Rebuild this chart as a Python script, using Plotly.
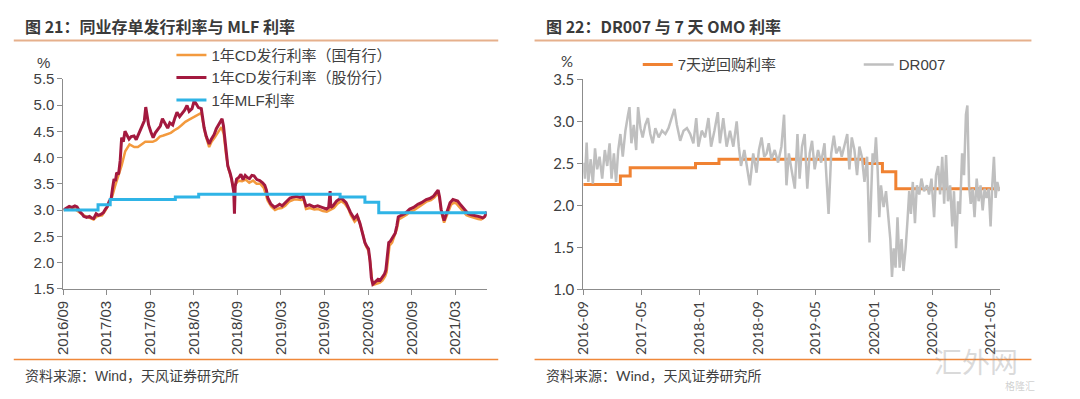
import plotly.graph_objects as go

# ---------------- data: left chart (同业存单发行利率与 MLF 利率) ----------------
cd_joint_dates = [
    "2016-09-01", "2016-09-13", "2016-09-25", "2016-10-07", "2016-10-19", "2016-10-28",
    "2016-11-10", "2016-11-19", "2016-11-25", "2016-12-07", "2016-12-19", "2016-12-28",
    "2017-01-06", "2017-01-16", "2017-01-25", "2017-02-06", "2017-02-15", "2017-02-24",
    "2017-03-03", "2017-03-12", "2017-03-20", "2017-03-26", "2017-04-01", "2017-04-07",
    "2017-04-12", "2017-04-20", "2017-04-27", "2017-05-03", "2017-05-10", "2017-05-17",
    "2017-05-25", "2017-06-03", "2017-06-12", "2017-06-24", "2017-07-03", "2017-07-12",
    "2017-07-21", "2017-07-27", "2017-08-06", "2017-08-12", "2017-08-18", "2017-08-24",
    "2017-09-03", "2017-09-12", "2017-09-21", "2017-10-03", "2017-10-12", "2017-10-21",
    "2017-10-31", "2017-11-12", "2017-11-21", "2017-12-03", "2017-12-12", "2017-12-21",
    "2018-01-01", "2018-01-13", "2018-01-22", "2018-02-01", "2018-02-10", "2018-02-22",
    "2018-03-03", "2018-03-12", "2018-03-21", "2018-04-02", "2018-04-08", "2018-04-14",
    "2018-04-23", "2018-05-05", "2018-05-14", "2018-05-26", "2018-06-04", "2018-06-13",
    "2018-06-22", "2018-06-28", "2018-07-04", "2018-07-10", "2018-07-16", "2018-07-22",
    "2018-08-01", "2018-08-07", "2018-08-16", "2018-08-19", "2018-08-22", "2018-08-28",
    "2018-09-06", "2018-09-15", "2018-09-24", "2018-10-03", "2018-10-12", "2018-10-21",
    "2018-10-31", "2018-11-09", "2018-11-21", "2018-12-03", "2018-12-15", "2018-12-24",
    "2018-12-31", "2019-01-06", "2019-01-18", "2019-02-03", "2019-02-15", "2019-02-24",
    "2019-03-07", "2019-03-19", "2019-03-31", "2019-04-09", "2019-04-24", "2019-05-06",
    "2019-05-21", "2019-06-03", "2019-06-15", "2019-06-30", "2019-07-18", "2019-08-03",
    "2019-08-21", "2019-08-31", "2019-09-09", "2019-09-18", "2019-09-24", "2019-09-27",
    "2019-10-06", "2019-10-21", "2019-10-31", "2019-11-09", "2019-11-21", "2019-11-30",
    "2019-12-09", "2019-12-18", "2020-01-03", "2020-01-15", "2020-01-27", "2020-02-05",
    "2020-02-17", "2020-02-26", "2020-03-03", "2020-03-09", "2020-03-15", "2020-03-21",
    "2020-03-31", "2020-04-12", "2020-04-21", "2020-04-30", "2020-05-09", "2020-05-15",
    "2020-05-21", "2020-05-27", "2020-06-02", "2020-06-08", "2020-06-17", "2020-06-23",
    "2020-06-30", "2020-07-06", "2020-07-18", "2020-08-02", "2020-08-14", "2020-08-23",
    "2020-09-08", "2020-09-26", "2020-10-11", "2020-10-31", "2020-11-15", "2020-11-30",
    "2020-12-10", "2020-12-20", "2020-12-26", "2021-01-02", "2021-01-14", "2021-01-22",
    "2021-01-30", "2021-02-08", "2021-02-20", "2021-03-02", "2021-03-12", "2021-03-24",
    "2021-04-03", "2021-04-14", "2021-04-25", "2021-05-08", "2021-05-20", "2021-06-01",
    "2021-06-14", "2021-06-25", "2021-07-04", "2021-07-12",
]
cd_joint_values = [
    3.00, 3.04, 3.07, 3.05, 3.08, 3.06,
    2.96, 2.92, 2.88, 2.86, 2.88, 2.85,
    2.84, 2.93, 2.90, 2.92, 2.95, 3.02,
    3.06, 3.17, 3.22, 3.42, 3.59, 3.55,
    3.71, 3.68, 3.95, 4.38, 4.30, 4.50,
    4.42, 4.35, 4.40, 4.41, 4.34, 4.44,
    4.52, 4.62, 4.70, 4.96, 4.78, 4.62,
    4.48, 4.38, 4.47, 4.56, 4.60, 4.74,
    4.65, 4.56, 4.66, 4.62, 4.75, 4.86,
    4.78, 4.84, 4.90, 4.99, 4.88, 4.93,
    5.08, 5.02, 4.95, 4.93, 4.75, 4.56,
    4.40, 4.26, 4.35, 4.44, 4.55, 4.62,
    4.70, 4.74, 4.60, 4.38, 4.10, 3.84,
    3.70, 3.59, 3.35, 2.93, 3.45, 3.59,
    3.62, 3.68, 3.58, 3.66, 3.62, 3.60,
    3.66, 3.65, 3.58, 3.56, 3.52, 3.47,
    3.38, 3.23, 3.12, 3.05, 3.08, 3.11,
    3.08, 3.14, 3.20, 3.23, 3.25, 3.26,
    3.24, 3.26, 3.08, 3.10, 3.06, 3.08,
    3.05, 3.03, 3.02, 3.05, 3.36, 3.05,
    3.08, 3.17, 3.20, 3.23, 3.18, 3.14,
    3.05, 2.96, 2.84, 2.90, 2.75, 2.59,
    2.38, 2.30, 2.26, 2.05, 1.71, 1.59,
    1.63, 1.68, 1.66, 1.71, 1.78, 1.86,
    2.10, 2.38, 2.40, 2.44, 2.50, 2.56,
    2.70, 2.87, 2.90, 2.93, 2.98, 3.02,
    3.05, 3.11, 3.14, 3.20, 3.22, 3.26,
    3.32, 3.38, 3.25, 3.00, 2.80, 2.92,
    3.05, 3.14, 3.20, 3.18, 3.17, 3.10,
    3.04, 2.98, 2.93, 2.91, 2.90, 2.88,
    2.87, 2.85, 2.88, 2.97,
]

cd_state_dates = [
    "2016-09-01", "2016-09-20", "2016-10-15", "2016-11-05", "2016-11-25", "2016-12-15",
    "2017-01-05", "2017-01-20", "2017-02-10", "2017-02-25", "2017-03-10", "2017-03-24",
    "2017-04-05", "2017-04-18", "2017-05-03", "2017-05-18", "2017-06-05", "2017-06-25",
    "2017-07-10", "2017-07-25", "2017-08-10", "2017-08-25", "2017-09-10", "2017-09-25",
    "2017-10-10", "2017-10-25", "2017-11-10", "2017-11-25", "2017-12-10", "2017-12-25",
    "2018-01-10", "2018-01-25", "2018-02-10", "2018-02-25", "2018-03-10", "2018-03-25",
    "2018-04-02", "2018-04-10", "2018-04-20", "2018-05-05", "2018-05-15", "2018-05-28",
    "2018-06-10", "2018-06-25", "2018-07-05", "2018-07-15", "2018-07-25", "2018-08-05",
    "2018-08-15", "2018-08-25", "2018-09-05", "2018-09-20", "2018-10-05", "2018-10-20",
    "2018-11-05", "2018-11-20", "2018-12-05", "2018-12-20", "2019-01-05", "2019-01-20",
    "2019-02-05", "2019-02-20", "2019-03-05", "2019-03-20", "2019-04-05", "2019-04-25",
    "2019-05-10", "2019-05-25", "2019-06-05", "2019-06-15", "2019-07-01", "2019-07-20",
    "2019-08-05", "2019-08-25", "2019-09-10", "2019-09-25", "2019-10-10", "2019-10-25",
    "2019-11-10", "2019-11-25", "2019-12-10", "2019-12-20", "2020-01-05", "2020-01-20",
    "2020-01-30", "2020-02-08", "2020-02-20", "2020-03-03", "2020-03-12", "2020-03-18",
    "2020-03-25", "2020-04-05", "2020-04-20", "2020-05-01", "2020-05-12", "2020-05-18",
    "2020-05-24", "2020-05-30", "2020-06-10", "2020-06-20", "2020-06-30", "2020-07-08",
    "2020-07-25", "2020-08-10", "2020-08-25", "2020-09-10", "2020-09-30", "2020-10-15",
    "2020-11-01", "2020-11-20", "2020-12-05", "2020-12-15", "2020-12-21", "2020-12-27",
    "2021-01-03", "2021-01-14", "2021-01-24", "2021-02-02", "2021-02-12", "2021-02-24",
    "2021-03-05", "2021-03-15", "2021-03-26", "2021-04-06", "2021-04-18", "2021-04-30",
    "2021-05-12", "2021-05-25", "2021-06-06", "2021-06-18", "2021-06-30", "2021-07-12",
]
cd_state_values = [
    3.00, 3.02, 3.03, 2.97, 2.90, 2.86,
    2.82, 2.88, 2.90, 3.00, 3.12, 3.25,
    3.45, 3.62, 3.85, 4.12, 4.25, 4.20,
    4.20, 4.25, 4.30, 4.30, 4.30, 4.33,
    4.40, 4.42, 4.44, 4.47, 4.52, 4.56,
    4.62, 4.68, 4.72, 4.76, 4.80, 4.84,
    4.85, 4.65, 4.42, 4.20, 4.30, 4.38,
    4.48, 4.58, 4.45, 4.05, 3.78, 3.62,
    3.40, 3.50, 3.56, 3.55, 3.58, 3.52,
    3.56, 3.50, 3.50, 3.42, 3.18, 3.07,
    3.00, 3.03, 3.04, 3.08, 3.16, 3.20,
    3.20, 3.19, 3.20, 3.02, 3.04, 3.01,
    3.02, 2.98, 2.97, 3.00, 3.04, 3.12,
    3.17, 3.12, 3.02, 2.90, 2.78, 2.85,
    2.70, 2.55, 2.33, 2.22, 1.95, 1.66,
    1.58, 1.60, 1.62, 1.66, 1.74, 1.82,
    2.05, 2.32, 2.38, 2.50, 2.64, 2.82,
    2.86, 2.91, 2.97, 3.00, 3.06, 3.10,
    3.16, 3.19, 3.24, 3.30, 3.33, 3.18,
    2.95, 2.76, 2.88, 3.02, 3.10, 3.14,
    3.13, 3.08, 3.02, 2.96, 2.90, 2.88,
    2.86, 2.84, 2.83, 2.82, 2.85, 2.93,
]

mlf_dates = ["2016-09-01", "2017-01-24", "2017-03-16", "2017-12-14", "2018-03-22",
             "2019-11-05", "2020-02-17", "2020-04-15", "2021-07-12"]
mlf_values = [3.00, 3.10, 3.20, 3.25, 3.30, 3.25, 3.15, 2.95, 2.95]

left_ticks = ["2016-09-01", "2017-03-01", "2017-09-01", "2018-03-01", "2018-09-01",
              "2019-03-01", "2019-09-01", "2020-03-01", "2020-09-01", "2021-03-01"]
left_tick_labels = ["2016/09", "2017/03", "2017/09", "2018/03", "2018/09",
                    "2019/03", "2019/09", "2020/03", "2020/09", "2021/03"]
left_range = ["2016-09-01", "2021-07-12"]

# ---------------- data: right chart (DR007 与 7 天 OMO 利率) ----------------
omo_dates = ["2016-09-01", "2017-02-03", "2017-03-16", "2017-12-14", "2018-03-22",
             "2019-11-18", "2020-02-03", "2020-03-30", "2021-06-08"]
omo_values = [2.25, 2.35, 2.45, 2.50, 2.55, 2.50, 2.40, 2.20, 2.20]

dr007_dates = [
    "2016-09-01", "2016-09-08", "2016-09-15", "2016-09-22", "2016-10-02", "2016-10-11",
    "2016-10-20", "2016-10-29", "2016-11-08", "2016-11-19", "2016-11-30", "2016-12-10",
    "2016-12-20", "2016-12-28", "2017-01-07", "2017-01-16", "2017-01-25", "2017-02-03",
    "2017-02-13", "2017-02-24", "2017-03-07", "2017-03-13", "2017-03-21", "2017-03-31",
    "2017-04-10", "2017-04-18", "2017-04-28", "2017-05-07", "2017-05-18", "2017-05-29",
    "2017-06-08", "2017-06-18", "2017-06-29", "2017-07-13", "2017-07-27", "2017-08-10",
    "2017-08-23", "2017-09-06", "2017-09-17", "2017-09-27", "2017-10-11", "2017-10-25",
    "2017-11-08", "2017-11-22", "2017-12-05", "2017-12-17", "2017-12-26", "2018-01-09",
    "2018-01-23", "2018-02-06", "2018-02-17", "2018-03-03", "2018-03-17", "2018-03-26",
    "2018-04-09", "2018-04-23", "2018-05-07", "2018-05-21", "2018-06-04", "2018-06-13",
    "2018-06-22", "2018-07-06", "2018-07-15", "2018-07-29", "2018-08-12", "2018-08-26",
    "2018-09-05", "2018-09-16", "2018-09-27", "2018-10-07", "2018-10-16", "2018-10-27",
    "2018-11-10", "2018-11-24", "2018-12-08", "2018-12-19", "2018-12-29", "2019-01-08",
    "2019-01-19", "2019-02-02", "2019-02-13", "2019-02-22", "2019-03-04", "2019-03-15",
    "2019-03-26", "2019-04-05", "2019-04-15", "2019-04-26", "2019-05-10", "2019-05-23",
    "2019-06-06", "2019-06-13", "2019-06-23", "2019-07-04", "2019-07-15", "2019-07-25",
    "2019-08-08", "2019-08-17", "2019-08-29", "2019-09-09", "2019-09-18", "2019-09-28",
    "2019-10-09", "2019-10-20", "2019-10-30", "2019-11-09", "2019-11-20", "2019-12-01",
    "2019-12-11", "2019-12-18", "2019-12-24", "2019-12-31", "2020-01-07", "2020-01-14",
    "2020-01-21", "2020-01-28", "2020-02-08", "2020-02-18", "2020-02-28", "2020-03-07",
    "2020-03-14", "2020-03-21", "2020-03-29", "2020-04-06", "2020-04-15", "2020-04-23",
    "2020-05-01", "2020-05-10", "2020-05-18", "2020-05-25", "2020-06-01", "2020-06-09",
    "2020-06-18", "2020-06-26", "2020-07-06", "2020-07-15", "2020-07-26", "2020-08-07",
    "2020-08-16", "2020-08-26", "2020-09-06", "2020-09-14", "2020-09-23", "2020-10-01",
    "2020-10-10", "2020-10-18", "2020-10-26", "2020-11-03", "2020-11-12", "2020-11-21",
    "2020-11-28", "2020-12-07", "2020-12-15", "2020-12-23", "2021-01-01", "2021-01-09",
    "2021-01-17", "2021-01-23", "2021-01-30", "2021-02-06", "2021-02-14", "2021-02-22",
    "2021-03-03", "2021-03-11", "2021-03-19", "2021-03-28", "2021-04-05", "2021-04-13",
    "2021-04-22", "2021-04-30", "2021-05-07", "2021-05-14", "2021-05-21", "2021-05-28",
    "2021-06-06",
]
dr007_values = [
    2.51, 2.32, 2.75, 2.28, 2.55, 2.26,
    2.68, 2.43, 2.58, 2.32, 2.66, 2.47,
    2.74, 2.32, 2.62, 2.28, 2.66, 2.85,
    2.58, 2.89, 3.08, 3.17, 2.74, 2.96,
    2.66, 3.17, 2.92, 2.81, 2.96, 3.04,
    2.85, 2.74, 2.92, 2.81, 2.89, 2.85,
    2.92, 3.04, 3.15, 2.96, 2.77, 2.89,
    2.92, 2.85, 2.74, 3.04, 2.70, 2.89,
    2.81, 3.04, 2.70, 2.89, 3.11, 2.74,
    3.04, 2.70, 2.89, 2.70, 3.00, 2.70,
    2.47, 2.66, 2.51, 2.24, 2.62, 2.39,
    2.66, 2.81, 2.58, 2.62, 2.74, 2.55,
    2.66, 2.51, 2.70, 3.08, 2.24, 2.62,
    2.43, 2.20, 2.85, 2.32, 2.70, 2.85,
    2.20, 2.62, 2.77, 2.43, 2.66, 2.51,
    2.74, 2.43, 1.90, 2.62, 2.83, 2.62,
    2.70, 2.58, 2.74, 2.85, 2.43, 2.81,
    2.66, 2.36, 2.70, 2.58, 2.28, 2.58,
    1.56, 2.28, 2.62, 2.51, 2.81, 2.43,
    1.86, 2.24, 1.98, 2.17, 1.83, 1.60,
    1.15, 1.49, 1.26, 1.86, 1.26, 1.60,
    1.22, 1.49, 1.83, 2.17, 1.90, 2.28,
    1.79, 2.24, 2.13, 2.32, 2.17, 2.24,
    2.13, 2.32, 1.86, 2.36, 2.47, 2.13,
    2.58, 2.02, 2.60, 2.05, 2.24, 1.75,
    2.17, 1.49, 2.05, 1.90, 2.62, 2.36,
    3.08, 3.19, 2.24, 2.02, 2.20, 1.86,
    2.32, 2.05, 2.24, 1.94, 2.20, 2.09,
    2.20, 1.75, 2.24, 2.58, 2.09, 2.28,
    2.17,
]

right_ticks = ["2016-09-01", "2017-05-01", "2018-01-01", "2018-09-01",
               "2019-05-01", "2020-01-01", "2020-09-01", "2021-05-01"]
right_tick_labels = ["2016-09", "2017-05", "2018-01", "2018-09",
                     "2019-05", "2020-01", "2020-09", "2021-05"]
right_range = ["2016-09-01", "2021-06-08"]

# ---------------- styling ----------------
W, H = 1080, 399
C_ORANGE_L = "#F39A3E"
C_MAROON = "#A3193F"
C_BLUE = "#2FB4E6"
C_ORANGE_R = "#F08232"
C_GRAY = "#BFBFBF"
TXT = "#404040"
AXIS = "#8C8C8C"
LAT = "Liberation Sans, Arial, Noto Sans CJK SC, sans-serif"
LATO = "Lato, Liberation Sans, Noto Sans CJK SC, sans-serif"
CJK = "Noto Sans CJK SC, Liberation Sans, sans-serif"


def px_x(p):
    return p / W


def px_y(p):
    return 1 - p / H


fig = go.Figure()

fig.add_trace(go.Scatter(x=cd_state_dates, y=cd_state_values, mode="lines",
                         name="1年CD发行利率（国有行）", line=dict(color=C_ORANGE_L, width=2.5),
                         xaxis="x", yaxis="y", legend="legend"))
fig.add_trace(go.Scatter(x=cd_joint_dates, y=cd_joint_values, mode="lines",
                         name="1年CD发行利率（股份行）", line=dict(color=C_MAROON, width=3),
                         xaxis="x", yaxis="y", legend="legend"))
fig.add_trace(go.Scatter(x=mlf_dates, y=mlf_values, mode="lines", line_shape="hv",
                         name="1年MLF利率", line=dict(color=C_BLUE, width=3),
                         xaxis="x", yaxis="y", legend="legend"))

fig.add_trace(go.Scatter(x=omo_dates, y=omo_values, mode="lines", line_shape="hv",
                         name="7天逆回购利率", line=dict(color=C_ORANGE_R, width=3),
                         xaxis="x2", yaxis="y2", legend="legend2"))
fig.add_trace(go.Scatter(x=dr007_dates, y=dr007_values, mode="lines",
                         name="DR007", line=dict(color=C_GRAY, width=2.5),
                         xaxis="x2", yaxis="y2", legend="legend2"))

axis_common = dict(showline=True, linecolor=AXIS, linewidth=1, ticks="outside",
                   ticklen=5, tickcolor=AXIS, showgrid=False, zeroline=False)

fig.update_layout(
    width=W, height=H,
    margin=dict(l=0, r=0, t=0, b=0),
    paper_bgcolor="white", plot_bgcolor="white",
    showlegend=True,
    xaxis=dict(domain=[px_x(57), px_x(500)], anchor="y", type="date", range=left_range,
               tickmode="array", tickvals=left_ticks, ticktext=left_tick_labels,
               tickangle=-90, tickfont=dict(family=LAT, size=15, color=TXT), **axis_common),
    yaxis=dict(domain=[px_y(292), px_y(72)], anchor="x", range=[1.5, 5.5],
               tickmode="array", tickvals=[1.5, 2.0, 2.5, 3.0, 3.5, 4.0, 4.5, 5.0, 5.5],
               tickformat=".1f", tickfont=dict(family=LAT, size=15, color=TXT), **axis_common),
    xaxis2=dict(domain=[px_x(601), px_x(1037)], anchor="y2", type="date", range=right_range,
                tickmode="array", tickvals=right_ticks, ticktext=right_tick_labels,
                tickangle=-90, tickfont=dict(family=LATO, size=14, color=TXT),
                **axis_common),
    yaxis2=dict(domain=[px_y(292.7), px_y(72.7)], anchor="x2", range=[1.0, 3.5],
                tickmode="array", tickvals=[1.0, 1.5, 2.0, 2.5, 3.0, 3.5],
                tickformat=".1f", tickfont=dict(family=LATO, size=15, color=TXT),
                **axis_common),
    legend=dict(x=px_x(170), y=px_y(30), xanchor="left", yanchor="top",
                orientation="v", bgcolor="rgba(0,0,0,0)", borderwidth=0,
                font=dict(family=LAT, size=15, color=TXT), tracegroupgap=0),
    legend2=dict(x=px_x(658), y=px_y(40), xanchor="left", yanchor="top",
                 orientation="h", bgcolor="rgba(0,0,0,0)", borderwidth=0,
                 entrywidth=176, entrywidthmode="pixels",
                 font=dict(family=LAT, size=15, color=TXT)),
)

shapes = []
for x0, x1 in [(5, 512), (550, 1070)]:
    shapes.append(dict(type="line", xref="paper", yref="paper", x0=px_x(x0), x1=px_x(x1),
                       y0=px_y(32), y1=px_y(32), line=dict(color="#E6B08C", width=2)))
    shapes.append(dict(type="line", xref="paper", yref="paper", x0=px_x(x0), x1=px_x(x1),
                       y0=px_y(366), y1=px_y(366), line=dict(color="#F0883A", width=1.5)))
fig.update_layout(shapes=shapes)

annotations = [
    dict(text="<b>图 21：同业存单发行利率与 MLF 利率</b>", x=px_x(15), y=px_y(17),
         font=dict(family=CJK, size=16, color="#3A3A3A")),
    dict(text="<b>图 22：DR007 与 7 天 OMO 利率</b>", x=px_x(560), y=px_y(17),
         font=dict(family=CJK, size=16, color="#3A3A3A")),
    dict(text="资料来源：Wind，天风证券研究所", x=px_x(15), y=px_y(383),
         font=dict(family=LAT, size=14, color=TXT)),
    dict(text="资料来源：Wind，天风证券研究所", x=px_x(560), y=px_y(383),
         font=dict(family=LATO, size=14, color=TXT)),
    dict(text="%", x=px_x(27), y=px_y(55), font=dict(family=LAT, size=15, color=TXT)),
    dict(text="%", x=px_x(576), y=px_y(53), font=dict(family=LATO, size=15, color=TXT)),
    dict(text="汇外网", x=px_x(966), y=px_y(368),
         font=dict(family=CJK, size=28, color="rgba(150,150,150,0.35)")),
    dict(text="格隆汇", x=px_x(1040), y=px_y(393),
         font=dict(family=CJK, size=10, color="rgba(150,150,150,0.45)")),
]
for a in annotations:
    a.update(xref="paper", yref="paper", xanchor="left", yanchor="middle", showarrow=False)
fig.update_layout(annotations=annotations)

fig.write_html("out.html", config={"displayModeBar": False},
               post_script="document.body.style.margin='0';document.body.style.padding='0';")
